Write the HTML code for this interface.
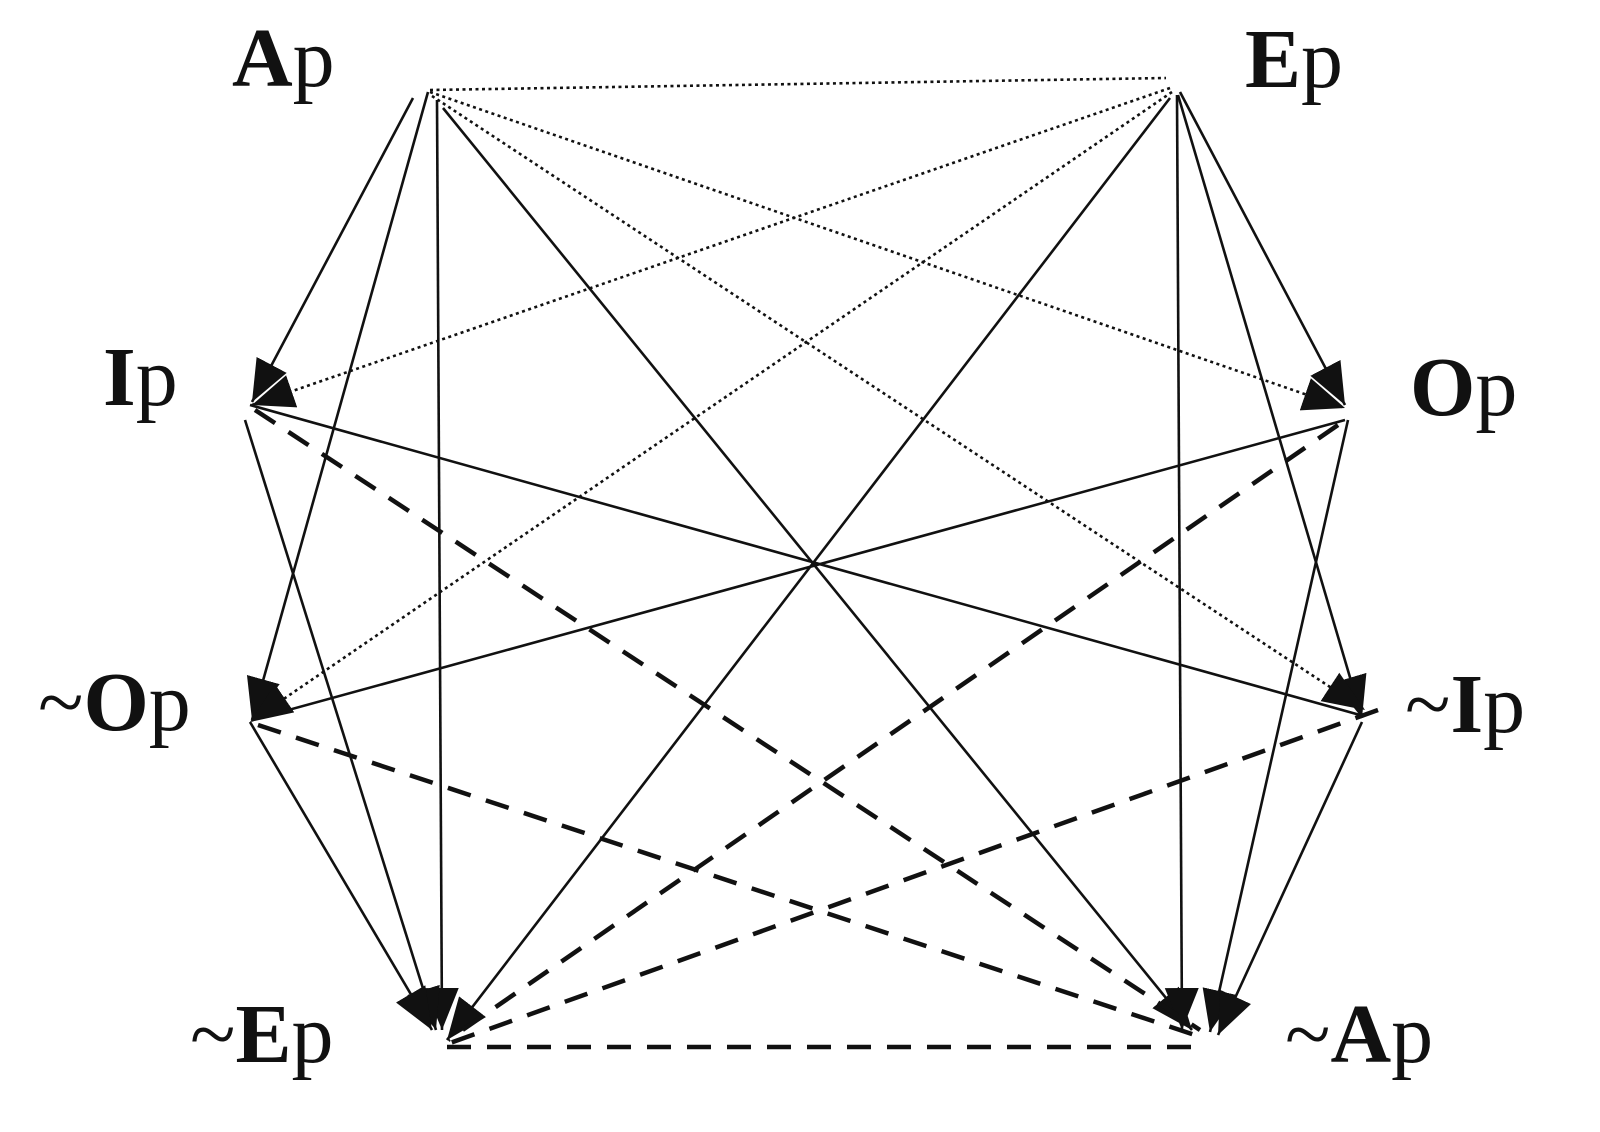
<!DOCTYPE html>
<html><head><meta charset="utf-8"><style>
html,body{margin:0;padding:0;background:#fff;}
svg{display:block;}
text{font-family:"Liberation Serif","Times New Roman",serif;font-size:84px;fill:#111;}
</style></head><body>
<svg width="1600" height="1132" viewBox="0 0 1600 1132" xmlns="http://www.w3.org/2000/svg">
<defs>
<marker id="a" markerUnits="userSpaceOnUse" markerWidth="44" markerHeight="36" refX="42" refY="18" orient="auto">
<path d="M0,1 L42,18 L0,35 z" fill="#111"/>
</marker>
</defs>
<g stroke="#111" fill="none">
<g stroke-width="2.6">
<line x1="413" y1="98" x2="252" y2="402" marker-end="url(#a)"/>
<line x1="428" y1="92" x2="252" y2="720" marker-end="url(#a)"/>
<line x1="437" y1="100" x2="442" y2="1030" marker-end="url(#a)"/>
<line x1="443" y1="108" x2="1192" y2="1030" marker-end="url(#a)"/>
<line x1="1170" y1="98" x2="447" y2="1040" marker-end="url(#a)"/>
<line x1="1177" y1="95" x2="1182" y2="1030" marker-end="url(#a)"/>
<line x1="1180" y1="92" x2="1345" y2="405" marker-end="url(#a)"/>
<line x1="1178" y1="95" x2="1362" y2="718" marker-end="url(#a)"/>
<line x1="245" y1="420" x2="436" y2="1030" marker-end="url(#a)"/>
<line x1="250" y1="405" x2="1360" y2="715"/>
<line x1="1345" y1="420" x2="252" y2="720"/>
<line x1="1348" y1="420" x2="1210" y2="1032" marker-end="url(#a)"/>
<line x1="250" y1="722" x2="432" y2="1030" marker-end="url(#a)"/>
<line x1="1362" y1="722" x2="1218" y2="1035" marker-end="url(#a)"/>
</g>
<g stroke-width="2.6" stroke-dasharray="3 3.5">
<line x1="430" y1="90" x2="1166" y2="78"/>
<line x1="430" y1="92" x2="1345" y2="408" marker-end="url(#a)"/>
<line x1="432" y1="96" x2="1365" y2="710" marker-end="url(#a)"/>
<line x1="1170" y1="88" x2="252" y2="405" marker-end="url(#a)"/>
<line x1="1172" y1="92" x2="250" y2="722" marker-end="url(#a)"/>
</g>
<g stroke-width="4.5" stroke-dasharray="24 16">
<line x1="255" y1="410" x2="1200" y2="1030"/>
<line x1="1338" y1="425" x2="448" y2="1040"/>
<line x1="258" y1="725" x2="1195" y2="1035"/>
<line x1="1378" y1="710" x2="450" y2="1043"/>
<line x1="447" y1="1047" x2="1205" y2="1047"/>
</g>
</g>
<text x="232" y="86"><tspan font-weight="bold">A</tspan>p</text>
<text x="1245" y="87"><tspan font-weight="bold">E</tspan>p</text>
<text x="103" y="405"><tspan font-weight="bold">I</tspan>p</text>
<text x="1410" y="415"><tspan font-weight="bold">O</tspan>p</text>
<text x="38" y="730">~<tspan font-weight="bold">O</tspan>p</text>
<text x="1405" y="732">~<tspan font-weight="bold">I</tspan>p</text>
<text x="190" y="1062">~<tspan font-weight="bold">E</tspan>p</text>
<text x="1285" y="1062">~<tspan font-weight="bold">A</tspan>p</text>
</svg>
</body></html>
